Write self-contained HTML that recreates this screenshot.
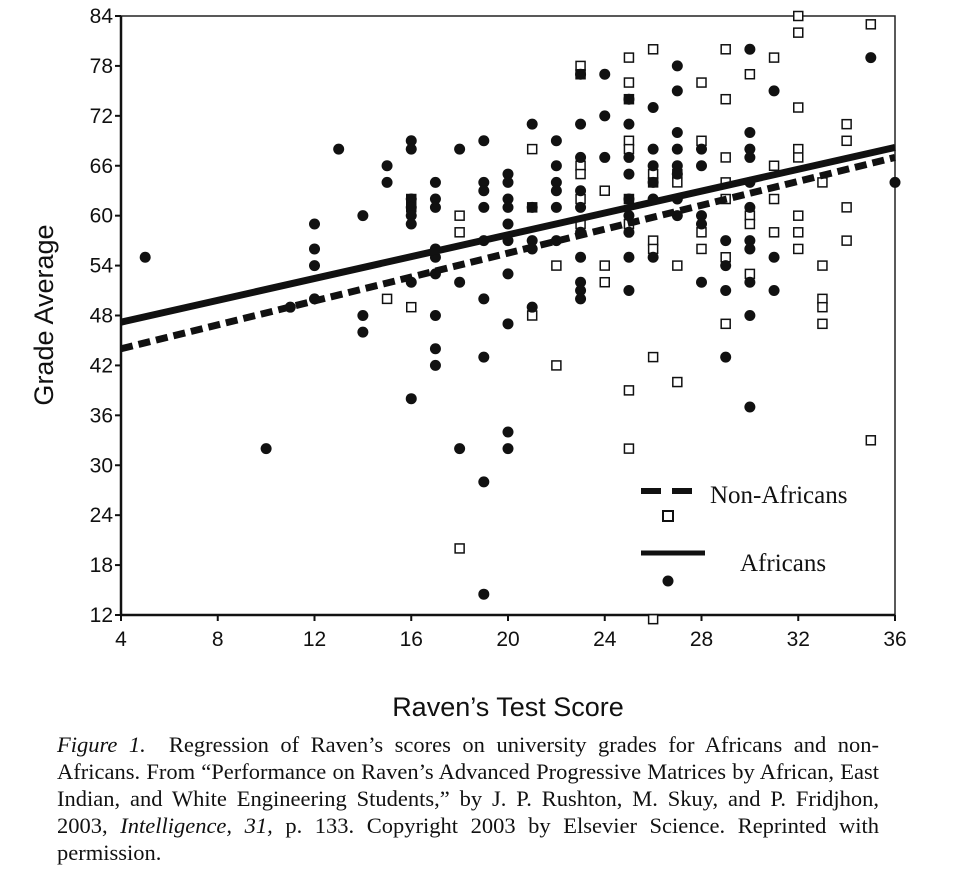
<!DOCTYPE html>
<html><head><meta charset="utf-8">
<style>
body{margin:0;background:#fff;width:962px;height:877px;overflow:hidden}
svg text{font-family:"Liberation Sans",sans-serif}
.cap{position:absolute;left:57px;top:731px;width:822px;text-align:justify;font-family:"Liberation Serif",serif;font-size:22.5px;line-height:27px;color:#111}
</style></head><body>
<svg id="chart" width="962" height="730" style="position:absolute;left:0;top:0"></svg>
<div class="cap"><i>Figure 1.</i>&nbsp;&nbsp;Regression of Raven’s scores on university grades for Africans and non-Africans. From “Performance on Raven’s Advanced Progressive Matrices by African, East Indian, and White Engineering Students,” by J. P. Rushton, M. Skuy, and P. Fridjhon, 2003, <i>Intelligence, 31,</i> p. 133. Copyright 2003 by Elsevier Science. Reprinted with permission.</div>
<script>
const xTicks=[4,8,12,16,20,24,28,32,36];
const yTicks=[12,18,24,30,36,42,48,54,60,66,72,78,84];
const africanX=[5,10,11,12,12,12,12,13,14,14,14,15,15,16,16,16,16,16,16,16,16,17,17,17,17,17,17,17,17,17,18,18,18,19,19,19,19,19,19,19,19,19,20,20,20,20,20,20,20,20,20,20,21,21,21,21,21,22,22,22,22,22,22,23,23,23,23,23,23,23,23,23,23,24,24,24,25,25,25,25,25,25,25,25,25,26,26,26,26,26,26,27,27,27,27,27,27,27,27,28,28,28,28,28,29,29,29,29,30,30,30,30,30,30,30,30,30,30,30,31,31,31,35,36];
const africanY=[55,32,49,59,56,54,50,68,60,48,46,66,64,69,68,62,61,60,59,52,38,64,62,61,56,55,53,48,44,42,68,52,32,69,64,63,61,57,50,43,28,14.5,65,64,62,61,59,57,53,47,34,32,71,61,57,56,49,69,66,64,63,61,57,77,71,67,63,61,58,55,52,51,50,77,72,67,74,71,67,65,62,60,58,55,51,73,68,66,64,62,55,78,75,70,68,66,65,62,60,68,66,60,59,52,57,54,51,43,80,70,68,67,64,61,57,56,52,48,37,75,55,51,79,64];
const nonX=[15,16,16,16,18,18,18,21,21,21,22,22,23,23,23,23,23,23,24,24,24,25,25,25,25,25,25,25,25,25,26,26,26,26,26,26,26,27,27,27,27,28,28,28,28,29,29,29,29,29,29,29,30,30,30,30,31,31,31,31,32,32,32,32,32,32,32,32,33,33,33,33,33,34,34,34,34,35,35];
const nonY=[50,62,61,49,60,58,20,68,61,48,54,42,78,77,66,65,62,59,63,54,52,79,76,74,69,68,62,59,39,32,80,65,64,57,56,43,11.5,65,64,54,40,76,69,58,56,80,74,67,64,62,55,47,77,60,59,53,79,66,62,58,84,82,73,68,67,60,58,56,64,54,50,49,47,71,69,61,57,83,33];
const africanLine=[[4,47.2],[36,68.2]];
const nonLine=[[4,44],[36,67]];
const L=121,R=895,T=16,B=615;
const sx=v=>L+(v-4)/(36-4)*(R-L);
const sy=v=>B-(v-12)/(84-12)*(B-T);
const svg=document.getElementById('chart');const NS='http://www.w3.org/2000/svg';
function mk(t,a,p){const e=document.createElementNS(NS,t);for(const k in a)e.setAttribute(k,a[k]);(p||svg).appendChild(e);return e;}
const frame=mk('rect',{x:L,y:T,width:R-L,height:B-T,fill:'none',stroke:'#222','stroke-width':1.5});


mk('line',{x1:L,y1:T,x2:L,y2:B,stroke:'#111','stroke-width':2.5});
mk('line',{x1:L,y1:B,x2:R,y2:B,stroke:'#111','stroke-width':2.5});
xTicks.forEach(v=>{mk('line',{x1:sx(v),y1:B,x2:sx(v),y2:B+6,stroke:'#111','stroke-width':2});
const t=mk('text',{x:sx(v),y:B+31,'font-size':21,'text-anchor':'middle',fill:'#111'});t.textContent=v;

});
yTicks.forEach(v=>{mk('line',{x1:L-6,y1:sy(v),x2:L,y2:sy(v),stroke:'#111','stroke-width':2});
const t=mk('text',{x:L-8,y:sy(v)+7,'font-size':21,'text-anchor':'end',fill:'#111'});t.textContent=v;

});
const yt=mk('text',{x:0,y:0,'font-size':27,'text-anchor':'middle',fill:'#111',transform:'translate(53,315) rotate(-90)'});yt.textContent='Grade Average';


const xt=mk('text',{x:508,y:716,'font-size':27,'text-anchor':'middle',fill:'#111'});xt.textContent='Raven’s Test Score';


nonX.forEach((x,i)=>{const r=mk('rect',{x:sx(x)-4.5,y:sy(nonY[i])-4.5,width:9,height:9,fill:'#fff',stroke:'#111','stroke-width':1.5});

});
africanX.forEach((x,i)=>{const c=mk('circle',{cx:sx(x),cy:sy(africanY[i]),r:5.5,fill:'#111'});

});
const l1=mk('line',{x1:sx(africanLine[0][0]),y1:sy(africanLine[0][1]),x2:sx(africanLine[1][0]),y2:sy(africanLine[1][1]),stroke:'#111','stroke-width':7});


const l2=mk('line',{x1:sx(nonLine[0][0]),y1:sy(nonLine[0][1]),x2:sx(nonLine[1][0]),y2:sy(nonLine[1][1]),stroke:'#111','stroke-width':7,'stroke-dasharray':'12,6'});


const lg=mk('g',{});


mk('line',{x1:641,y1:491,x2:700,y2:491,stroke:'#111','stroke-width':6,'stroke-dasharray':'20,11'},lg);
mk('rect',{x:663,y:511,width:10,height:10,fill:'#fff',stroke:'#111','stroke-width':2},lg);
mk('line',{x1:641,y1:553,x2:705,y2:553,stroke:'#111','stroke-width':5},lg);
mk('circle',{cx:668,cy:581,r:5.5,fill:'#111'},lg);
const t1=mk('text',{x:710,y:503,'font-size':25,fill:'#111'},lg);t1.textContent='Non-Africans';
t1.setAttribute('style','font-family:"Liberation Serif",serif');
const t2=mk('text',{x:740,y:571,'font-size':25,fill:'#111'},lg);t2.textContent='Africans';
t2.setAttribute('style','font-family:"Liberation Serif",serif');
</script>
</body></html>
